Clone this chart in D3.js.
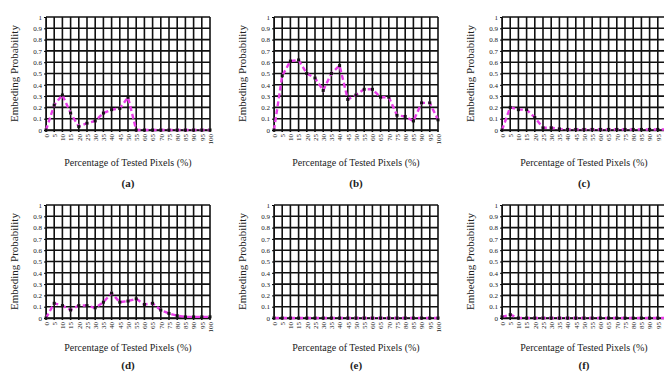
<!DOCTYPE html>
<html>
<head>
<meta charset="UTF-8">
<script src="https://d3js.org/d3.v7.min.js"></script>
<style>
  body { margin: 0; background: #fff; }
</style>
</head>
<body>
<div id="chart"></div>
<script>
// tested pixel percentages (x categories)
const xCats = [0, 5, 10, 15, 20, 25, 30, 35, 40, 45, 50, 55, 60, 65, 70, 75, 80, 85, 90, 95, 100];
const yTicks = [0, 0.1, 0.2, 0.3, 0.4, 0.5, 0.6, 0.7, 0.8, 0.9, 1];

const seriesA = [0, 0.22, 0.31, 0.15, 0.03, 0.06, 0.08, 0.15, 0.18, 0.19, 0.29, 0, 0, 0, 0, 0, 0, 0, 0, 0, 0];
const seriesB = [0, 0.48, 0.61, 0.62, 0.5, 0.46, 0.35, 0.5, 0.57, 0.27, 0.31, 0.36, 0.36, 0.29, 0.29, 0.13, 0.12, 0.08, 0.24, 0.24, 0.09];
const seriesC = [0, 0.2, 0.18, 0.18, 0.11, 0.02, 0.02, 0.01, 0.005, 0.005, 0.005, 0.005, 0.005, 0.005, 0.005, 0.005, 0.005, 0.005, 0.005, 0.005, 0.005];
const seriesD = [0, 0.13, 0.11, 0.07, 0.11, 0.11, 0.09, 0.14, 0.22, 0.14, 0.15, 0.17, 0.12, 0.13, 0.07, 0.04, 0.02, 0.01, 0.01, 0.01, 0.01];
const seriesE = [0, 0, 0, 0, 0, 0, 0, 0, 0, 0, 0, 0, 0, 0, 0, 0, 0, 0, 0, 0, 0];
const seriesF = [0.01, 0.03, 0, 0, 0, 0, 0, 0, 0, 0, 0, 0, 0, 0, 0, 0, 0, 0, 0, 0, 0];

const panelLabels = ["(a)", "(b)", "(c)", "(d)", "(e)", "(f)"];
const allSeries = [seriesA, seriesB, seriesC, seriesD, seriesE, seriesF];

const yTitle = "Embeding Probability";
const xTitle = "Percentage of Tested Pixels (%)";

const serif = "'Liberation Serif', 'Times New Roman', serif";

// panel plot-area origins
const colX = [46, 274, 502];
const rowY = [17, 205];
const titleGap = [36, 33];
const labelGap = [57, 51];
const pw = 164, ph = 113;

const svg = d3.select("#chart").append("svg")
  .attr("width", 664)
  .attr("height", 374)
  .attr("font-family", serif);

const x = d3.scalePoint().domain(xCats).range([0, pw]);
const y = d3.scaleLinear().domain([0, 1]).range([ph, 0]);

allSeries.forEach((vals, i) => {
  let col = i % 3, row = Math.floor(i / 3);
  let g = svg.append("g")
    .attr("transform", "translate(" + colX[col] + "," + rowY[row] + ")");

  // grid
  g.selectAll(".hg").data(yTicks).enter().append("line")
    .attr("x1", 0).attr("x2", pw)
    .attr("y1", d => y(d)).attr("y2", d => y(d))
    .attr("stroke", "#111").attr("stroke-width", 1.6);
  g.selectAll(".vg").data(xCats).enter().append("line")
    .attr("x1", d => x(d)).attr("x2", d => x(d))
    .attr("y1", 0).attr("y2", ph + 2)
    .attr("stroke", "#111").attr("stroke-width", 1.6);

  // y axis labels
  let yAxis = g.append("g").call(d3.axisLeft(y).tickValues(yTicks).tickSize(2).tickFormat(d3.format("~g")));
  yAxis.attr("font-family", serif);
  yAxis.select(".domain").attr("stroke", "#111");
  yAxis.selectAll("text").attr("font-size", 7).attr("fill", "#222").attr("dx", 1);

  // x axis labels
  let xAxis = g.append("g").attr("transform", "translate(0," + ph + ")")
    .call(d3.axisBottom(x).tickSize(0));
  xAxis.attr("font-family", serif);
  xAxis.select(".domain").attr("stroke", "#111").attr("stroke-width", 1.6);
  xAxis.selectAll("text")
    .attr("font-size", 7)
    .attr("fill", "#222")
    .attr("transform", "rotate(-90)")
    .attr("text-anchor", "end")
    .attr("x", -4).attr("y", 0).attr("dy", "0.32em");

  // the data line
  let pts = xCats.map((c, k) => ({ c: c, v: vals[k] }));
  let line = d3.line().x(d => x(d.c)).y(d => y(d.v));
  g.append("path").datum(pts)
    .attr("d", line)
    .attr("fill", "none")
    .attr("stroke", "#e83ce8")
    .attr("stroke-width", 2.4)
    .attr("stroke-dasharray", "5,3");
  g.selectAll(".mk").data(pts).enter().append("rect")
    .attr("x", d => x(d.c) - 1.5).attr("y", d => y(d.v) - 1.5)
    .attr("width", 3).attr("height", 3)
    .attr("fill", "#111");

  // titles
  g.append("text")
    .attr("transform", "translate(-28," + (ph / 2) + ") rotate(-90)")
    .attr("text-anchor", "middle")
    .attr("font-size", 11)
    .attr("fill", "#222")
    .text(yTitle);
  g.append("text")
    .attr("x", pw / 2).attr("y", ph + titleGap[row])
    .attr("text-anchor", "middle")
    .attr("font-size", 10)
    .attr("fill", "#222")
    .text(xTitle);
  g.append("text")
    .attr("x", pw / 2).attr("y", ph + labelGap[row])
    .attr("text-anchor", "middle")
    .attr("font-size", 11)
    .attr("font-weight", "bold")
    .attr("fill", "#222")
    .text(panelLabels[i]);
});
</script>
</body>
</html>
